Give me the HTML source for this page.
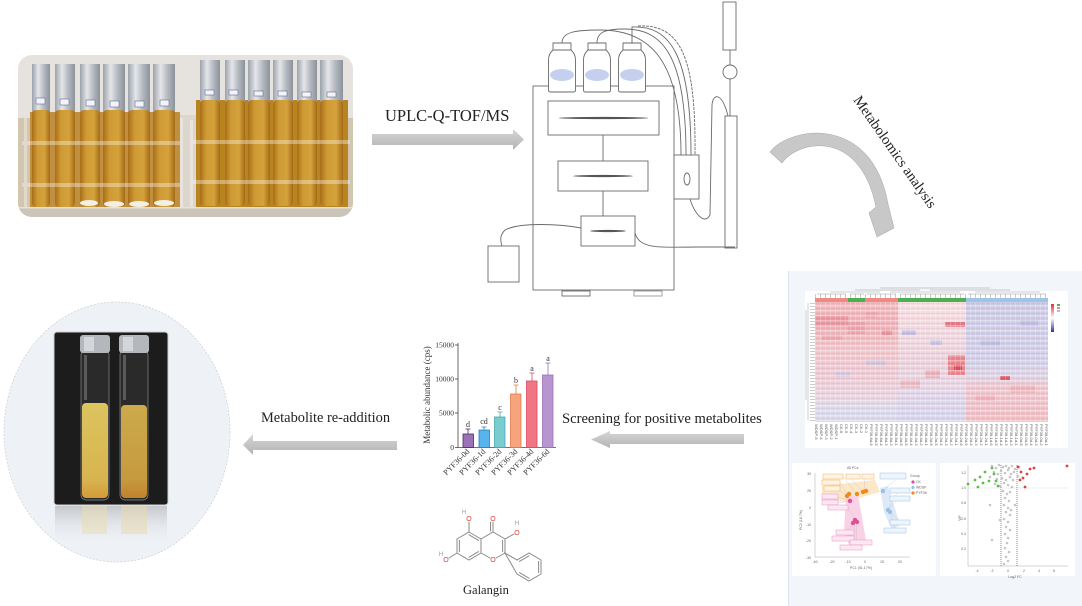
<!DOCTYPE html>
<html><head><meta charset="utf-8">
<style>
html,body{margin:0;padding:0;background:#fff;}
#wrap{position:relative;width:1082px;height:606px;overflow:hidden;background:#fff;}
svg{position:absolute;left:0;top:0;}
#labs{position:absolute;left:815px;top:424px;width:234px;height:23px;writing-mode:vertical-rl;font-family:"Liberation Sans",sans-serif;font-size:4px;line-height:5px;color:#555;overflow:hidden;white-space:nowrap;}
</style></head><body><div id="wrap">
<svg width="1082" height="606" viewBox="0 0 1082 606" xmlns="http://www.w3.org/2000/svg">
<defs>
<clipPath id="cp1"><rect x="18" y="55" width="335" height="162" rx="14"/></clipPath>
<linearGradient id="amb" x1="0" y1="0" x2="1" y2="0"><stop offset="0" stop-color="#a86e18"/><stop offset=".3" stop-color="#cf9a34"/><stop offset=".7" stop-color="#d4a23c"/><stop offset="1" stop-color="#a46a16"/></linearGradient>
<linearGradient id="foil" x1="0" y1="0" x2="1" y2="0"><stop offset="0" stop-color="#9ca2aa"/><stop offset=".35" stop-color="#e4e6ea"/><stop offset=".65" stop-color="#b6bbc2"/><stop offset="1" stop-color="#8c929a"/></linearGradient>
<linearGradient id="arrG" x1="0" y1="0" x2="0" y2="1"><stop offset="0" stop-color="#d6d6d6"/><stop offset="1" stop-color="#b4b4b4"/></linearGradient>
<linearGradient id="liq1" x1="0" y1="0" x2="0" y2="1"><stop offset="0" stop-color="#dcc45e"/><stop offset=".8" stop-color="#d8b450"/><stop offset="1" stop-color="#d49a3a"/></linearGradient>
<linearGradient id="liq2" x1="0" y1="0" x2="0" y2="1"><stop offset="0" stop-color="#ccaa4c"/><stop offset=".8" stop-color="#c69a3e"/><stop offset="1" stop-color="#c0822c"/></linearGradient>
<linearGradient id="refl" x1="0" y1="0" x2="0" y2="1"><stop offset="0" stop-color="#c4c8cc"/><stop offset="1" stop-color="#eef2f6" stop-opacity="0"/></linearGradient>
<linearGradient id="hA" x1="0" y1="0" x2="0" y2="1"><stop offset="0" stop-color="#f0b8bd"/><stop offset=".2" stop-color="#eeb0b6"/><stop offset=".4" stop-color="#f0c4ca"/><stop offset=".6" stop-color="#ecc8d2"/><stop offset=".78" stop-color="#e8d2dc"/><stop offset=".88" stop-color="#dcd8ea"/><stop offset="1" stop-color="#d8d8ec"/></linearGradient>
<linearGradient id="hD" x1="0" y1="0" x2="0" y2="1"><stop offset="0" stop-color="#f4dce0"/><stop offset=".3" stop-color="#eed6de"/><stop offset=".5" stop-color="#ead0da"/><stop offset=".7" stop-color="#e6d4e2"/><stop offset=".82" stop-color="#dad4ea"/><stop offset="1" stop-color="#d4d4ec"/></linearGradient>
<linearGradient id="hE" x1="0" y1="0" x2="0" y2="1"><stop offset="0" stop-color="#cacae6"/><stop offset=".5" stop-color="#d0cee8"/><stop offset=".62" stop-color="#dcd2e4"/><stop offset=".7" stop-color="#ecc6ce"/><stop offset="1" stop-color="#f0bcc2"/></linearGradient>
<linearGradient id="leg" x1="0" y1="0" x2="0" y2="1"><stop offset="0" stop-color="#e03030"/><stop offset=".5" stop-color="#ffffff"/><stop offset="1" stop-color="#3030a0"/></linearGradient>
<pattern id="rows" width="4" height="5" patternUnits="userSpaceOnUse"><rect width="4" height="1.5" fill="#fff" opacity=".35"/><rect y="3" width="4" height="1" fill="#b04060" opacity=".08"/></pattern>
<pattern id="cols" width="5" height="4" patternUnits="userSpaceOnUse"><rect width="1" height="4" fill="#fff" opacity=".22"/></pattern>
<pattern id="dh" width="5" height="3" patternUnits="userSpaceOnUse"><rect width="5" height=".5" fill="#999"/></pattern>
<pattern id="dv" width="5" height="4" patternUnits="userSpaceOnUse"><rect width=".5" height="4" fill="#999"/></pattern>
</defs>

<!-- ===== Top-left photo ===== -->
<g clip-path="url(#cp1)">
<rect x="18" y="55" width="335" height="162" fill="#e6e3de"/>
<rect x="18" y="118" width="335" height="99" fill="#d2c6b0"/>
<rect x="30" y="112" width="150" height="95" fill="#c09040"/>
<rect x="196" y="100" width="152" height="108" fill="#b8841f"/>
<rect x="180" y="115" width="16" height="95" fill="#dcd6cc"/>
<g>
<rect x="32" y="64" width="18" height="48" fill="url(#foil)"/><rect x="32" y="110" width="18" height="97" rx="4" fill="url(#amb)"/>
<rect x="55" y="64" width="20" height="48" fill="url(#foil)"/><rect x="55" y="110" width="20" height="97" rx="4" fill="url(#amb)"/>
<rect x="80" y="64" width="20" height="48" fill="url(#foil)"/><rect x="80" y="110" width="20" height="97" rx="4" fill="url(#amb)"/>
<rect x="103" y="64" width="22" height="48" fill="url(#foil)"/><rect x="103" y="110" width="22" height="97" rx="4" fill="url(#amb)"/>
<rect x="128" y="64" width="22" height="48" fill="url(#foil)"/><rect x="128" y="110" width="22" height="97" rx="4" fill="url(#amb)"/>
<rect x="153" y="64" width="22" height="48" fill="url(#foil)"/><rect x="153" y="110" width="22" height="97" rx="4" fill="url(#amb)"/>
</g>
<g fill="#f4f4f4" stroke="#5a6aa0" stroke-width=".6">
<rect x="36" y="98" width="9" height="6"/><rect x="60" y="99" width="9" height="6"/><rect x="86" y="100" width="9" height="6"/><rect x="110" y="101" width="9" height="6"/><rect x="135" y="101" width="9" height="6"/><rect x="160" y="100" width="9" height="6"/>
</g>
<g>
<rect x="200" y="60" width="20" height="42" fill="url(#foil)"/><rect x="200" y="100" width="20" height="106" rx="4" fill="url(#amb)"/>
<rect x="225" y="60" width="20" height="42" fill="url(#foil)"/><rect x="225" y="100" width="20" height="106" rx="4" fill="url(#amb)"/>
<rect x="248" y="60" width="22" height="42" fill="url(#foil)"/><rect x="248" y="100" width="22" height="106" rx="4" fill="url(#amb)"/>
<rect x="273" y="60" width="20" height="42" fill="url(#foil)"/><rect x="273" y="100" width="20" height="106" rx="4" fill="url(#amb)"/>
<rect x="297" y="60" width="20" height="42" fill="url(#foil)"/><rect x="297" y="100" width="20" height="106" rx="4" fill="url(#amb)"/>
<rect x="320" y="60" width="23" height="42" fill="url(#foil)"/><rect x="320" y="100" width="23" height="106" rx="4" fill="url(#amb)"/>
</g>
<g fill="#f4f4f4" stroke="#5a6aa0" stroke-width=".6">
<rect x="205" y="90" width="9" height="5"/><rect x="229" y="90" width="9" height="5"/><rect x="254" y="91" width="9" height="5"/><rect x="278" y="91" width="9" height="5"/><rect x="302" y="92" width="9" height="5"/><rect x="327" y="92" width="9" height="5"/>
</g>
<g fill="#f2efe6">
<ellipse cx="89" cy="203" rx="9" ry="3"/><ellipse cx="114" cy="204" rx="10" ry="3"/><ellipse cx="139" cy="204" rx="10" ry="3"/><ellipse cx="164" cy="203" rx="10" ry="3"/>
</g>
<g fill="#fff" opacity=".35">
<rect x="22" y="141" width="160" height="4"/><rect x="22" y="183" width="160" height="4"/>
<rect x="190" y="140" width="160" height="4"/><rect x="190" y="180" width="160" height="4"/>
<rect x="24" y="118" width="3" height="92"/><rect x="180" y="118" width="3" height="92"/><rect x="190" y="120" width="3" height="90"/>
</g>
<rect x="18" y="207" width="335" height="10" fill="#cbc4b8"/>
<rect x="18" y="207" width="335" height="1.5" fill="#fff" opacity=".5"/>
</g>

<!-- ===== UPLC arrow ===== -->
<text x="385" y="121" font-family="Liberation Serif, serif" font-size="16.5" fill="#222">UPLC-Q-TOF/MS</text>
<polygon points="372,134 513,134 513,129 524,139.5 513,150 513,145 372,145" fill="url(#arrG)"/>

<!-- ===== Instrument ===== -->
<g fill="none" stroke="#6a6a6a" stroke-width="0.9">
<rect x="533" y="86" width="141" height="204" fill="#fff"/>
<rect x="548" y="101" width="111" height="34"/>
<rect x="558" y="161" width="90" height="30"/>
<rect x="581" y="216" width="54" height="30"/>
<line x1="603" y1="135" x2="603" y2="161"/>
<line x1="603" y1="191" x2="603" y2="216"/>
<rect x="562" y="291" width="28" height="5"/>
<rect x="634" y="291" width="28" height="5" stroke="#999"/>
<rect x="674" y="155" width="25" height="44" fill="#fff"/>
<ellipse cx="687" cy="179" rx="3" ry="6"/>
<rect x="725" y="116" width="12" height="132" fill="#fff"/>
<rect x="723" y="2" width="13" height="48"/>
<line x1="730" y1="50" x2="730" y2="65"/>
<circle cx="730" cy="72" r="7"/>
<line x1="730" y1="79" x2="730" y2="116"/>
<rect x="488" y="246" width="31" height="36" fill="#fff"/>
<path d="M562 43 C562 32 575 30 600 30 C650 30 681 60 681 155"/>
<path d="M597 43 C597 32 605 29 625 29 C665 29 686 60 686 155"/>
<path d="M632 43 L632 27 C670 25 691 55 691 155"/>
<path d="M638 26 C680 24 696 55 695 155" stroke-dasharray="3 1"/>
<path d="M690 199 C695 215 705 225 710 215 L712 105 C713 93 722 92 728 116"/>
<path d="M635 233 C640 250 660 247 700 247 L735 247"/>
<path d="M581 228 C560 224 520 222 505 230 C500 235 500 240 502 246"/>
</g>
<g fill="#555">
<ellipse cx="603.5" cy="118" rx="45" ry="1.1"/>
<ellipse cx="603" cy="176" rx="30" ry="1.1"/>
<ellipse cx="608" cy="231" rx="18" ry="1.1"/>
</g>
<g stroke="#6a6a6a" stroke-width="0.9" fill="#fff">
<path d="M553 43 L571 43 L571 50 Q575.5 54 575.5 60 L575.5 90 Q575.5 92 573.5 92 L550.5 92 Q548.5 92 548.5 90 L548.5 60 Q548.5 54 553 50 Z"/>
<path d="M588 43 L606 43 L606 50 Q610.5 54 610.5 60 L610.5 90 Q610.5 92 608.5 92 L585.5 92 Q583.5 92 583.5 90 L583.5 60 Q583.5 54 588 50 Z"/>
<path d="M623 43 L641 43 L641 50 Q645.5 54 645.5 60 L645.5 90 Q645.5 92 643.5 92 L620.5 92 Q618.5 92 618.5 90 L618.5 60 Q618.5 54 623 50 Z"/>
<line x1="553" y1="50" x2="571" y2="50"/><line x1="588" y1="50" x2="606" y2="50"/><line x1="623" y1="50" x2="641" y2="50"/>
</g>
<g fill="#c5d0ee"><ellipse cx="562" cy="75" rx="12" ry="6"/><ellipse cx="597" cy="75" rx="12" ry="6"/><ellipse cx="632" cy="75" rx="12" ry="6"/></g>

<!-- ===== Curved arrow + Metabolomics text ===== -->
<path d="M770 152 C790 126 872 114 888 204 L894 228 L877 237 L869 213 L876 207 C860 128 798 140 782 163 Z" fill="#c8c8c8" stroke="#b0b0b0" stroke-width=".6"/>
<text x="853" y="100" transform="rotate(55 853 100)" font-family="Liberation Serif, serif" font-size="14.5" fill="#222">Metabolomics analysis</text>

<!-- ===== Right panel ===== -->
<rect x="788" y="271" width="294" height="335" fill="#f2f5f9"/>
<line x1="788.5" y1="271" x2="788.5" y2="606" stroke="#dde3ea"/>
<rect x="805" y="291" width="263" height="157" fill="#fff"/>
<rect x="815" y="302" width="83" height="120" fill="url(#hA)"/>
<rect x="898" y="302" width="68" height="120" fill="url(#hD)"/>
<rect x="966" y="302" width="82" height="120" fill="url(#hE)"/>
<g>
<rect x="815" y="316" width="33" height="10" fill="#e88c96" opacity=".7"/>
<rect x="822" y="335" width="20" height="5" fill="#e8a0a8" opacity=".7"/>
<rect x="848" y="322" width="17" height="12" fill="#e89aa2" opacity=".6"/>
<rect x="865" y="312" width="12" height="6" fill="#e8a0a8" opacity=".6"/>
<rect x="882" y="330" width="10" height="5" fill="#e07880" opacity=".6"/>
<rect x="945" y="322" width="20" height="5" fill="#e06070" opacity=".8"/>
<rect x="948" y="355" width="17" height="20" fill="#e87078" opacity=".8"/>
<rect x="954" y="365" width="8" height="5" fill="#d84050" opacity=".8"/>
<rect x="925" y="370" width="15" height="8" fill="#e8a0a8" opacity=".7"/>
<rect x="900" y="380" width="20" height="8" fill="#e8a6ae" opacity=".6"/>
<rect x="1000" y="376" width="10" height="4" fill="#d84050" opacity=".8"/>
<rect x="902" y="330" width="14" height="5" fill="#b0b0d8" opacity=".7"/>
<rect x="930" y="340" width="12" height="5" fill="#b8b8dc" opacity=".7"/>
<rect x="866" y="360" width="20" height="5" fill="#c0c0e0" opacity=".6"/>
<rect x="835" y="372" width="15" height="5" fill="#c4c4e2" opacity=".6"/>
<rect x="980" y="340" width="20" height="6" fill="#b4b4da" opacity=".6"/>
<rect x="1020" y="320" width="18" height="6" fill="#b0b0d8" opacity=".6"/>
<rect x="1010" y="385" width="25" height="8" fill="#eaa8b0" opacity=".6"/>
<rect x="975" y="395" width="20" height="6" fill="#eaa0a8" opacity=".5"/>
</g>
<rect x="815" y="302" width="233" height="120" fill="url(#rows)"/>
<rect x="815" y="302" width="233" height="120" fill="url(#cols)"/>
<rect x="815" y="298" width="33" height="4" fill="#ee8a84"/>
<rect x="848" y="298" width="17" height="4" fill="#4caf50"/>
<rect x="865" y="298" width="33" height="4" fill="#ee8a84"/>
<rect x="898" y="298" width="68" height="4" fill="#4caf50"/>
<rect x="966" y="298" width="82" height="4" fill="#9ec4e8"/>
<rect x="815" y="294" width="233" height="4" fill="url(#dv)"/>
<g stroke="#999" stroke-width=".5" fill="none">
<path d="M817 294H846 M850 294H864 M867 294H896 M900 294H964 M968 294H1046 M830 292H880 M890 292H960 M975 292H1040 M855 290H920 M930 290H1010 M880 288H990"/>
<path d="M808 303V420 M806 310V400"/>
</g>
<rect x="810" y="303" width="5" height="118" fill="url(#dh)"/>
<rect x="1051" y="304" width="3" height="28" fill="url(#leg)"/>
<rect x="1057" y="304" width="3" height="2" fill="#4caf50"/><rect x="1057" y="307" width="3" height="2" fill="#ee8a84"/><rect x="1057" y="310" width="3" height="2" fill="#9ec4e8"/>

<!-- PCA -->
<rect x="792" y="463" width="144" height="113" fill="#fff"/>
<g font-family="Liberation Sans, sans-serif" font-size="3.5" fill="#666">
<text x="847" y="469">All PCs</text>
<text x="811" y="475" text-anchor="end">30</text><text x="811" y="492" text-anchor="end">20</text><text x="811" y="509" text-anchor="end">0</text><text x="811" y="526" text-anchor="end">-10</text><text x="811" y="542" text-anchor="end">-20</text><text x="811" y="559" text-anchor="end">-30</text>
<text x="815" y="563" text-anchor="middle">-40</text><text x="832" y="563" text-anchor="middle">-20</text><text x="848" y="563" text-anchor="middle">-10</text><text x="865" y="563" text-anchor="middle">0</text><text x="882" y="563" text-anchor="middle">15</text><text x="900" y="563" text-anchor="middle">20</text>
<text x="850" y="569">PC1 (51.17%)</text>
<text transform="translate(802 520) rotate(-90)" text-anchor="middle">PC2 (18.7%)</text>
<text x="910" y="477">Group</text><text x="916" y="483">CK</text><text x="916" y="488.5">WDSP</text><text x="916" y="494">PYF36</text>
</g>
<g stroke="#aaa" stroke-width=".5"><line x1="815" y1="473" x2="815" y2="557"/><line x1="815" y1="557" x2="910" y2="557"/></g>
<polygon points="822,486 875,480 880,492 845,502 822,500" fill="#fde3c0" opacity=".85"/>
<polygon points="846,497 858,495 866,540 850,548 844,530" fill="#f9d2e6"/>
<polygon points="880,488 888,486 900,525 892,530 884,512" fill="#dde9f6"/>
<g stroke="#bbb" stroke-width=".3"><path d="M843 477L857 494 M840 483L848 495 M838 489L847 496 M849 477L863 492 M864 477L865 492 M838 497L850 501 M838 503L850 501 M848 508L855 520 M854 533L855 521 M843 539L853 523 M856 543L857 522 M895 480L883 491 M898 491L888 510 M898 499L888 510 M902 523L890 512 M896 531L890 512"/></g>
<g fill="#fff4e4" stroke="#f2b060" stroke-width=".5"><rect x="823" y="474" width="20" height="5"/><rect x="822" y="480" width="18" height="5"/><rect x="824" y="486" width="16" height="5"/><rect x="846" y="474" width="14" height="5"/><rect x="862" y="474" width="12" height="5"/></g>
<g fill="#fde8f2" stroke="#e890c0" stroke-width=".5"><rect x="822" y="494" width="16" height="5"/><rect x="822" y="500" width="16" height="5"/><rect x="828" y="505" width="20" height="5"/><rect x="836" y="530" width="18" height="5"/><rect x="832" y="536" width="22" height="5"/><rect x="850" y="540" width="22" height="5"/><rect x="840" y="545" width="22" height="5"/></g>
<g fill="#eef4fb" stroke="#9ec4e8" stroke-width=".5"><rect x="880" y="473" width="26" height="6"/><rect x="890" y="488" width="20" height="5"/><rect x="890" y="496" width="20" height="5"/><rect x="890" y="520" width="20" height="5"/><rect x="884" y="528" width="22" height="5"/></g>
<g fill="#f08a1a"><circle cx="847" cy="496" r="2.2"/><circle cx="849" cy="494" r="2.2"/><circle cx="857" cy="494" r="2.2"/><circle cx="863" cy="492" r="2.2"/><circle cx="866" cy="491" r="2.2"/><circle cx="913" cy="493" r="1.6"/></g>
<g fill="#e0509a"><circle cx="850" cy="501" r="2.2"/><circle cx="855" cy="520" r="2.2"/><circle cx="857" cy="522" r="2.2"/><circle cx="853" cy="523" r="2.2"/><circle cx="913" cy="482" r="1.6"/></g>
<g fill="#9ac0e8"><circle cx="883" cy="491" r="2.2"/><circle cx="888" cy="510" r="2.2"/><circle cx="890" cy="512" r="2.2"/><circle cx="913" cy="487.5" r="1.6"/></g>

<!-- Volcano -->
<rect x="940" y="463" width="135" height="113" fill="#fff"/>
<g font-family="Liberation Sans, sans-serif" font-size="3.5" fill="#666">
<text x="966" y="474" text-anchor="end">1.2</text><text x="966" y="489" text-anchor="end">1.0</text><text x="966" y="504" text-anchor="end">0.8</text><text x="966" y="520" text-anchor="end">0.6</text><text x="966" y="535" text-anchor="end">0.4</text><text x="966" y="550" text-anchor="end">0.2</text>
<text x="977" y="572" text-anchor="middle">-4</text><text x="992" y="572" text-anchor="middle">-2</text><text x="1008" y="572" text-anchor="middle">0</text><text x="1024" y="572" text-anchor="middle">2</text><text x="1039" y="572" text-anchor="middle">4</text><text x="1054" y="572" text-anchor="middle">6</text>
<text x="1015" y="578" text-anchor="middle">Log2 FC</text>
<text transform="translate(961 518) rotate(-90)" text-anchor="middle">VIP</text>
</g>
<g stroke="#aaa" stroke-width=".5"><line x1="968" y1="465" x2="968" y2="566"/><line x1="968" y1="566" x2="1068" y2="566"/></g>
<line x1="968" y1="488" x2="1068" y2="488" stroke="#bbb" stroke-width=".5" stroke-dasharray="1 1"/>
<line x1="1001" y1="465" x2="1001" y2="566" stroke="#444" stroke-width=".6" stroke-dasharray="1 1"/>
<line x1="1017" y1="465" x2="1017" y2="566" stroke="#444" stroke-width=".6" stroke-dasharray="1 1"/>
<g fill="#c6c6c6">
<circle cx="992" cy="466" r="1.3"/><circle cx="996" cy="468" r="1.3"/><circle cx="999" cy="465" r="1.3"/><circle cx="1003" cy="467" r="1.3"/><circle cx="1006" cy="466" r="1.3"/><circle cx="1009" cy="468" r="1.3"/><circle cx="1012" cy="466" r="1.3"/><circle cx="1015" cy="469" r="1.3"/><circle cx="1019" cy="467" r="1.3"/><circle cx="994" cy="472" r="1.3"/><circle cx="998" cy="474" r="1.3"/><circle cx="1001" cy="471" r="1.3"/><circle cx="1005" cy="473" r="1.3"/><circle cx="1008" cy="470" r="1.3"/><circle cx="1011" cy="474" r="1.3"/><circle cx="1014" cy="472" r="1.3"/><circle cx="990" cy="477" r="1.3"/><circle cx="997" cy="479" r="1.3"/><circle cx="1002" cy="478" r="1.3"/><circle cx="1006" cy="480" r="1.3"/><circle cx="1010" cy="477" r="1.3"/><circle cx="1013" cy="480" r="1.3"/><circle cx="1018" cy="476" r="1.3"/><circle cx="995" cy="484" r="1.3"/><circle cx="1000" cy="486" r="1.3"/><circle cx="1004" cy="483" r="1.3"/><circle cx="1008" cy="485" r="1.3"/><circle cx="1012" cy="487" r="1.3"/><circle cx="1003" cy="491" r="1.3"/><circle cx="1007" cy="494" r="1.3"/><circle cx="1010" cy="492" r="1.3"/><circle cx="1005" cy="498" r="1.3"/><circle cx="1009" cy="501" r="1.3"/><circle cx="1004" cy="505" r="1.3"/><circle cx="1008" cy="508" r="1.3"/><circle cx="1006" cy="512" r="1.3"/><circle cx="1010" cy="515" r="1.3"/><circle cx="1004" cy="519" r="1.3"/><circle cx="1008" cy="522" r="1.3"/><circle cx="1006" cy="527" r="1.3"/><circle cx="1010" cy="530" r="1.3"/><circle cx="1005" cy="534" r="1.3"/><circle cx="1008" cy="538" r="1.3"/><circle cx="1007" cy="543" r="1.3"/><circle cx="1005" cy="548" r="1.3"/><circle cx="1009" cy="552" r="1.3"/><circle cx="1006" cy="557" r="1.3"/><circle cx="1008" cy="561" r="1.3"/><circle cx="1004" cy="564" r="1.3"/><circle cx="1011" cy="510" r="1.3"/><circle cx="1000" cy="520" r="1.3"/><circle cx="992" cy="540" r="1.3"/><circle cx="1015" cy="505" r="1.3"/><circle cx="990" cy="505" r="1.3"/>
</g>
<g fill="#5cbf4a"><circle cx="968" cy="484" r="1.4"/><circle cx="980" cy="477" r="1.4"/><circle cx="985" cy="472" r="1.4"/><circle cx="992" cy="468" r="1.4"/><circle cx="994" cy="474" r="1.4"/><circle cx="996" cy="481" r="1.4"/><circle cx="989" cy="481" r="1.4"/><circle cx="983" cy="483" r="1.4"/><circle cx="978" cy="487" r="1.4"/><circle cx="998" cy="486" r="1.4"/><circle cx="975" cy="480" r="1.4"/></g>
<g fill="#e04040"><circle cx="1018" cy="467" r="1.4"/><circle cx="1021" cy="472" r="1.4"/><circle cx="1023" cy="478" r="1.4"/><circle cx="1025" cy="487" r="1.4"/><circle cx="1030" cy="469" r="1.4"/><circle cx="1034" cy="468" r="1.4"/><circle cx="1067" cy="466" r="1.4"/><circle cx="1027" cy="474" r="1.4"/><circle cx="1020" cy="480" r="1.4"/></g>

<!-- ===== Screening arrow ===== -->
<text x="562" y="423" font-family="Liberation Serif, serif" font-size="14.6" fill="#222">Screening for positive metabolites</text>
<polygon points="744,434 610,434 610,431 591,439.5 610,448 610,444 744,444" fill="url(#arrG)"/>

<!-- ===== Bar chart ===== -->
<g font-family="Liberation Serif, serif" fill="#333">
<line x1="458" y1="343" x2="458" y2="447.5" stroke="#444" stroke-width=".8"/>
<line x1="458" y1="447.5" x2="556" y2="447.5" stroke="#444" stroke-width=".8"/>
<g stroke="#444" stroke-width=".8"><line x1="455" y1="345" x2="458" y2="345"/><line x1="455" y1="379" x2="458" y2="379"/><line x1="455" y1="413" x2="458" y2="413"/><line x1="455" y1="447.5" x2="458" y2="447.5"/></g>
<g font-size="7.5" text-anchor="end"><text x="454" y="347.5">15000</text><text x="454" y="381.5">10000</text><text x="454" y="415.5">5000</text><text x="454" y="450">0</text></g>
<text transform="translate(430 395) rotate(-90)" text-anchor="middle" font-size="9">Metabolic abundance (cps)</text>
<rect x="463" y="434" width="10.5" height="13.5" fill="#9b72b8" stroke="#4a2c66" stroke-width=".8"/>
<rect x="479" y="430" width="10.5" height="17.5" fill="#58b4ee" stroke="#2a7fc0" stroke-width=".8"/>
<rect x="494.5" y="417" width="10.5" height="30.5" fill="#79cdd0" stroke="#4aa8ad" stroke-width=".8"/>
<rect x="510.5" y="394" width="10.5" height="53.5" fill="#f5a47c" stroke="#e07a50" stroke-width=".8"/>
<rect x="526.5" y="381" width="10.5" height="66.5" fill="#f07585" stroke="#d84a5e" stroke-width=".8"/>
<rect x="542.5" y="375" width="10.5" height="72.5" fill="#b895cf" stroke="#9a70b8" stroke-width=".8"/>
<g stroke-width=".8" fill="none">
<path d="M468 434V429 M465.5 429H470.5" stroke="#4a2c66"/>
<path d="M484 430V427 M481.5 427H486.5" stroke="#2a7fc0"/>
<path d="M500 417V412 M497.5 412H502.5" stroke="#4aa8ad"/>
<path d="M516 394V385 M513.5 385H518.5" stroke="#e07a50"/>
<path d="M532 381V373 M529.5 373H534.5" stroke="#d84a5e"/>
<path d="M548 375V363 M545.5 363H550.5" stroke="#9a70b8"/>
</g>
<g font-size="8" text-anchor="middle"><text x="468" y="427">d</text><text x="484" y="424">cd</text><text x="500" y="410">c</text><text x="516" y="383">b</text><text x="532" y="371">a</text><text x="548" y="361">a</text></g>
<g font-size="8" text-anchor="end">
<text transform="translate(470 452) rotate(-45)">PYF36-0d</text>
<text transform="translate(486 452) rotate(-45)">PYF36-1d</text>
<text transform="translate(502 452) rotate(-45)">PYF36-2d</text>
<text transform="translate(518 452) rotate(-45)">PYF36-3d</text>
<text transform="translate(534 452) rotate(-45)">PYF36-4d</text>
<text transform="translate(550 452) rotate(-45)">PYF36-6d</text>
</g>
</g>

<!-- ===== Galangin ===== -->
<g stroke="#8a8a8a" stroke-width="1" fill="none" stroke-linecap="round">
<path d="M469 532 L481 539 L481 553 L469 560 L457 553 L457 539 Z"/>
<path d="M481 539 L493 532 L505 539 L505 553 M481 553 L490 558 M496 558 L505 553"/>
<path d="M459.4 540.4 L459.4 551.6 M469 557.2 L478.6 551.6 M469 534.8 L478.6 540.4 M502.6 540.4 L502.6 551.6"/>
<path d="M493 532 L493 522 M490.5 531 L490.5 522"/>
<path d="M469 532 L469 522 M505 539 L514 534 M457 553 L449 558"/>
<path d="M505 553 L517 560 L529 553 L541 560 L541 574 L529 581 L517 574 Z"/>
<path d="M519.4 561.4 L529 555.8 M538.6 561.4 L538.6 572.6 M529 578.2 L519.4 572.6"/>
</g>
<g font-family="Liberation Sans, sans-serif" font-size="7" text-anchor="middle">
<text x="469" y="521" fill="#e0403a">O</text>
<text x="493" y="521" fill="#e0403a">O</text>
<text x="517" y="535" fill="#e0403a">O</text>
<text x="446" y="562" fill="#e0403a">O</text>
<text x="493" y="562" fill="#e0403a">O</text>
<text x="464" y="514" fill="#8aa0a0" font-size="6">H</text>
<text x="517" y="525" fill="#8aa0a0" font-size="6">H</text>
<text x="441" y="556" fill="#8aa0a0" font-size="6">H</text>
</g>
<text x="463" y="594" font-family="Liberation Serif, serif" font-size="12.5" fill="#222">Galangin</text>

<!-- ===== Re-addition arrow ===== -->
<text x="261" y="422" font-family="Liberation Serif, serif" font-size="14.4" fill="#222">Metabolite re-addition</text>
<polygon points="397,441 253,441 253,434 243,445 253,455 253,450 397,450" fill="url(#arrG)"/>

<!-- ===== Bottom-left photo ===== -->
<ellipse cx="117" cy="432" rx="113" ry="130" fill="#eef2f6" stroke="#cfd4da" stroke-width=".8" stroke-dasharray="2 1.5"/>
<rect x="55" y="506" width="112" height="40" fill="url(#refl)"/>
<rect x="82" y="506" width="25" height="28" fill="#e8dcb4" opacity=".55"/>
<rect x="121" y="506" width="26" height="28" fill="#e8d8b0" opacity=".55"/>
<rect x="54" y="332" width="114" height="173" rx="3" fill="#1c1c1c" stroke="#d0d0d0" stroke-width="1"/>
<rect x="81" y="350" width="28" height="150" rx="5" fill="#2a2a2a" stroke="#8a8a8a" stroke-width=".7"/>
<rect x="120" y="350" width="28" height="150" rx="5" fill="#2a2a2a" stroke="#8a8a8a" stroke-width=".7"/>
<rect x="82" y="403" width="26" height="95" rx="4" fill="url(#liq1)"/>
<rect x="121" y="405" width="26" height="93" rx="4" fill="url(#liq2)"/>
<rect x="80" y="335" width="30" height="18" rx="3" fill="#b4b8bc"/>
<rect x="84" y="337" width="10" height="14" fill="#dcdee0" opacity=".8"/>
<rect x="119" y="335" width="30" height="18" rx="3" fill="#b4b8bc"/>
<rect x="123" y="337" width="10" height="14" fill="#dcdee0" opacity=".8"/>
<rect x="84" y="355" width="3" height="45" fill="#5a5a5a"/>
<rect x="123" y="355" width="3" height="45" fill="#5a5a5a"/>
</svg>
<div id="labs">PYF36-0d-1<br>PYF36-0d-2<br>PYF36-0d-3<br>PYF36-0d-4<br>PYF36-0d-5<br>PYF36-0d-6<br>PYF36-1d-1<br>PYF36-1d-2<br>PYF36-1d-3<br>PYF36-1d-4<br>PYF36-1d-5<br>PYF36-1d-6<br>PYF36-2d-1<br>PYF36-2d-2<br>PYF36-2d-3<br>PYF36-2d-4<br>PYF36-2d-5<br>PYF36-2d-6<br>PYF36-3d-1<br>PYF36-3d-2<br>PYF36-3d-3<br>PYF36-3d-4<br>PYF36-3d-5<br>PYF36-3d-6<br>PYF36-4d-1<br>PYF36-4d-2<br>PYF36-4d-3<br>PYF36-4d-4<br>PYF36-4d-5<br>PYF36-4d-6<br>PYF36-6d-1<br>PYF36-6d-2<br>PYF36-6d-3<br>PYF36-6d-4<br>PYF36-6d-5<br>PYF36-6d-6<br>CK-1<br>CK-2<br>CK-3<br>CK-4<br>CK-5<br>CK-6<br>WDSP-1<br>WDSP-2<br>WDSP-3<br>WDSP-4<br>WDSP-5</div>
</div></body></html>
